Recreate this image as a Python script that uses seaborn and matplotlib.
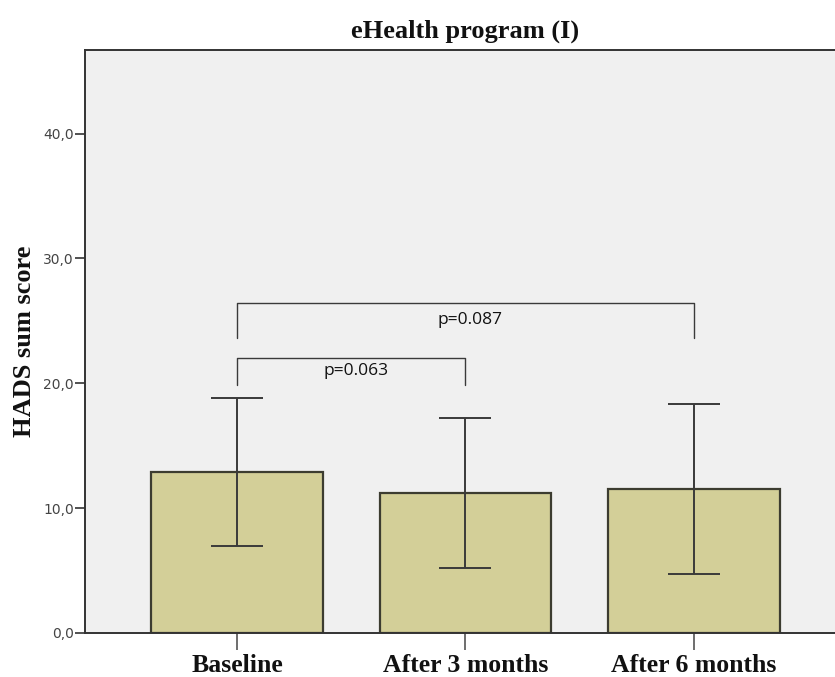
import matplotlib
matplotlib.use("Agg")
import matplotlib.pyplot as plt
import seaborn as sns
import pandas as pd

categories = ["Baseline", "After 3 months", "After 6 months"]
means = [12.9, 11.2, 11.55]
err_upper = [18.8, 17.2, 18.35]
err_lower = [6.95, 5.2, 4.75]
yticks = [0, 10, 20, 30, 40]
ytick_labels = ["0,0", "10,0", "20,0", "30,0", "40,0"]
comparisons = [(0, 1, "p=0.063"), (0, 2, "p=0.087")]
bracket_top = [22.0, 26.45]
bracket_leg = [19.9, 23.65]
label_y = [21.0, 25.1]

sns.set_theme(style="white")
df = pd.DataFrame({"cat": categories, "val": means})

fig = plt.figure(figsize=(8.35, 6.77), dpi=100)
ax = fig.add_axes([85/835, 1 - 633/677, 760/835, (633-50)/677])
ax.set_facecolor("#f0f0f0")

sns.barplot(data=df, x="cat", y="val", ax=ax, color="#d3cf98", width=0.75,
            edgecolor="#3c3c30", linewidth=1.6, errorbar=None, saturation=1)

xpos = list(range(len(categories)))
yerr = [[m - lo for m, lo in zip(means, err_lower)], [hi - m for m, hi in zip(means, err_upper)]]
ax.errorbar(xpos, means, yerr=yerr, fmt="none", ecolor="#3a3a3a", elinewidth=1.4,
            capsize=19, capthick=1.4)

for (i, j, txt), top, leg, ly in zip(comparisons, bracket_top, bracket_leg, label_y):
    ax.plot([i, i, j, j], [leg, top, top, leg], color="#3a3a3a", lw=1.0, solid_joinstyle="round")
    ax.text((i + j) / 2 + 0.02, ly, txt, ha="center", va="center", fontsize=12.5,
            family="Open Sans", color="#111111")

ax.set_xlim(-0.665, 2.661)
ax.set_ylim(0, 46.7)
ax.set_yticks(yticks)
ax.set_yticklabels(ytick_labels, family="DejaVu Sans", fontsize=10, color="#444444")
ax.set_xticks(xpos)
ax.set_xticklabels(categories, family="Liberation Serif", fontweight="bold", fontsize=18.5,
                   color="#111111")
ax.tick_params(axis="y", direction="out", length=7, width=1.2, color="#333333", left=True, pad=1)
ax.tick_params(axis="x", direction="out", length=12, width=1.2, color="#555555", bottom=True, pad=3)
ax.set_xlabel("")
ax.set_ylabel("HADS sum score", family="Liberation Serif", fontweight="bold", fontsize=19,
              labelpad=5, color="#111111")
ax.set_title("eHealth program (I)", family="Liberation Serif", fontweight="bold", fontsize=19,
             pad=9, color="#111111")

for side in ["left", "bottom", "top"]:
    ax.spines[side].set_visible(True)
    ax.spines[side].set_color("#333333")
    ax.spines[side].set_linewidth(1.4)
ax.spines["right"].set_visible(False)

fig.savefig("out.png", dpi=100, facecolor="white")
